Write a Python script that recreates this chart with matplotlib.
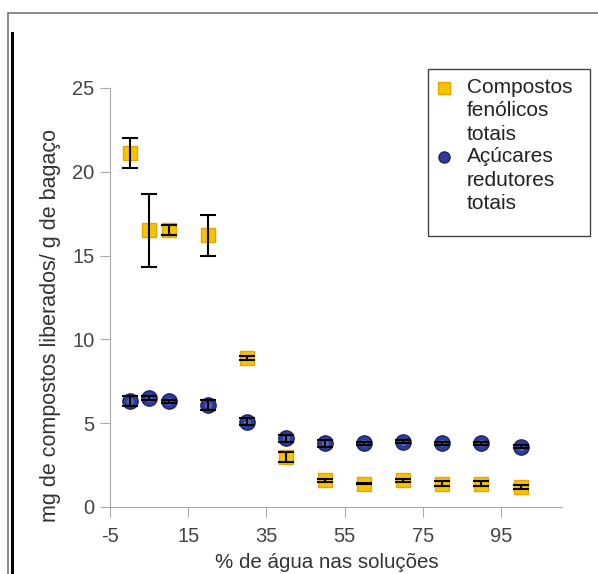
import matplotlib.pyplot as plt
from matplotlib.lines import Line2D
from matplotlib.patches import Rectangle

plt.rcParams['font.family'] = ['Liberation Sans', 'DejaVu Sans']
plt.rcParams['axes.unicode_minus'] = False

# % de água nas soluções
agua = [0, 5, 10, 20, 30, 40, 50, 60, 70, 80, 90, 100]

# compostos fenólicos totais (mg/g)
fenolicos = [21.1, 16.5, 16.5, 16.2, 8.9, 3.0, 1.6, 1.4, 1.6, 1.4, 1.4, 1.2]
fenolicos_err = [0.9, 2.2, 0.3, 1.2, 0.1, 0.3, 0.1, 0.05, 0.1, 0.15, 0.15, 0.1]

# açúcares redutores totais (mg/g)
acucares = [6.3, 6.5, 6.3, 6.1, 5.1, 4.1, 3.8, 3.8, 3.9, 3.8, 3.8, 3.6]
acucares_err = [0.3, 0.1, 0.1, 0.3, 0.2, 0.2, 0.2, 0.1, 0.1, 0.1, 0.1, 0.1]

xticks = [-5, 15, 35, 55, 75, 95]
yticks = [0, 5, 10, 15, 20, 25]
labels = ['Compostos\nfenólicos\ntotais', 'Açúcares\nredutores\ntotais']

W, H = 598, 574
fig = plt.figure(figsize=(W / 100, H / 100), dpi=100)
ax = fig.add_axes([110 / W, 1 - 507 / H, 452 / W, 419 / H])


def fx(px):
    return px / W


def fy(py):
    return 1 - py / H


# moldura externa
fig.patches.append(Rectangle((fx(8), -0.1), 1.2, fy(13) + 0.1, transform=fig.transFigure,
                             fill=False, edgecolor='#777777', linewidth=1.2))
fig.add_artist(Line2D([fx(11.5), fx(11.5)], [0.0, fy(33)], transform=fig.transFigure,
                      color='black', linewidth=2.2))

amarelo = dict(marker='s', markerfacecolor='#f5c400', markeredgecolor='#eba300',
               markeredgewidth=1.0)
azul = dict(marker='o', markerfacecolor='#2f3c98', markeredgecolor='#1b2466',
            markeredgewidth=1.0)

ax.plot(agua, fenolicos, linestyle='none', markersize=9.5, zorder=3, **amarelo)
ax.plot(agua, acucares, linestyle='none', markersize=11, zorder=3, **azul)
ax.plot(agua, acucares, linestyle='none', marker='o', markersize=5,
        markerfacecolor='#8090d8', markeredgecolor='none', alpha=0.5, zorder=3)

ax.errorbar(agua, fenolicos, yerr=fenolicos_err, fmt='none', ecolor='black',
            elinewidth=1.5, capsize=6, capthick=1.5, zorder=4)
ax.errorbar(agua, acucares, yerr=acucares_err, fmt='none', ecolor='black',
            elinewidth=1.5, capsize=6, capthick=1.5, zorder=4)

ax.set_xlim(-5, 110.6)
ax.set_ylim(0, 25)
ax.set_xticks(xticks)
ax.set_yticks(yticks)
for s in ['top', 'right']:
    ax.spines[s].set_visible(False)
for s in ['left', 'bottom']:
    ax.spines[s].set_color('#aaaaaa')
ax.tick_params(colors='#aaaaaa', labelcolor='#444444', labelsize=14.5, length=7.5)
ax.tick_params(axis='x', pad=7)

# títulos dos eixos
fig.text(fx(327), fy(562), '% de água nas soluções', fontsize=14.8, color='#333333',
         ha='center', va='center')
fig.text(fx(51), fy(326), 'mg de compostos liberados/ g de bagaço', fontsize=15.5,
         color='#333333', ha='center', va='center', rotation=90)

# legenda
fig.patches.append(Rectangle((fx(428), fy(236)), fx(590) - fx(428), fy(69) - fy(236),
                             transform=fig.transFigure, fill=True, facecolor='white',
                             edgecolor='#444444', linewidth=1.0, zorder=5))
for i, (lab, est) in enumerate(zip(labels, [amarelo, azul])):
    y0 = 88 + i * 69
    fig.add_artist(Line2D([fx(444)], [fy(y0)], transform=fig.transFigure,
                          linestyle='none', markersize=8, zorder=6, **est))
    fig.text(fx(467), fy(y0 - 10), lab, fontsize=15, color='#222222',
             va='top', ha='left', linespacing=1.3, zorder=6)

fig.savefig('out.png', dpi=100)
